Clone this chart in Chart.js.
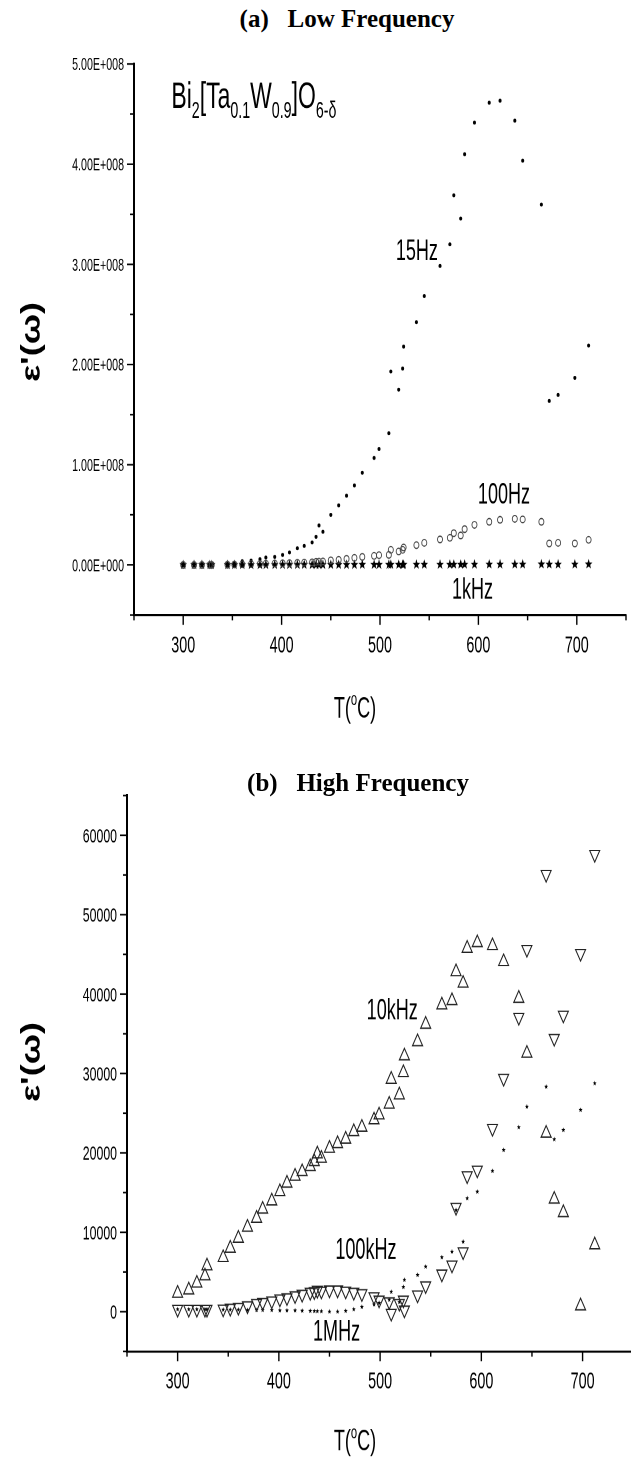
<!DOCTYPE html>
<html>
<head>
<meta charset="utf-8">
<script src="https://cdn.jsdelivr.net/npm/chart.js@4.4.1/dist/chart.umd.min.js"></script>
<style>
  html, body { margin: 0; padding: 0; background: #fff; overflow: hidden; }
  body { width: 631px; height: 1461px; position: relative; }
  .titulo { position: absolute; font: bold 25px 'Liberation Serif', 'Times New Roman', serif; white-space: pre; transform: translateX(-50%); line-height: 1; z-index: 2; }
  .panel { position: absolute; left: 0; transform: scaleY(1.33); transform-origin: 0 0; }
</style>
</head>
<body>
<div class="panel" style="top:40px;width:631px;height:519px"><canvas id="graficoA"></canvas></div>
<div class="panel" style="top:770px;width:640px;height:520px"><canvas id="graficoB"></canvas></div>
<div class="titulo" style="left:347px;top:6px">(a)   Low Frequency</div>
<div class="titulo" style="left:358px;top:770px">(b)   High Frequency</div>
<script>
// Temperaturas de medida (°C), comunes a las dos gráficas
const temperaturas = [300, 311, 319, 327, 329, 345, 352, 360, 369, 378, 384, 393, 401, 408, 416, 423, 431, 435, 438, 442,
  450, 458, 466, 474, 482, 494, 499, 509, 511, 519, 523, 524, 537, 545, 561, 571, 575, 582, 586, 596,
  611, 622, 637, 645, 664, 672, 681, 698, 712];

// (a) baja frecuencia, en unidades de 1E+008
const e15Hz = [0.004, 0.004, 0.005, 0.005, 0.006, 0.010, 0.015, 0.037, 0.044, 0.057, 0.074, 0.080, 0.100, 0.124, 0.167, 0.190, 0.224, 0.280, 0.394, 0.330,
  0.500, 0.594, 0.690, 0.794, 0.920, 1.067, 1.157, 1.314, 1.930, 1.750, 1.960, 2.180, 2.424, 2.684, 2.984, 3.200, 3.690, 3.457, 4.100, 4.414,
  4.614, 4.634, 4.434, 4.034, 3.597, 1.637, 1.697, 1.867, 2.190];
const e100Hz = [0.000, 0.000, 0.000, 0.000, 0.000, 0.002, 0.004, 0.006, 0.008, 0.010, 0.012, 0.014, 0.016, 0.018, 0.020, 0.022, 0.025, 0.030, 0.032, 0.034,
  0.045, 0.050, 0.060, 0.070, 0.080, 0.090, 0.097, 0.100, 0.150, 0.134, 0.150, 0.174, 0.197, 0.220, 0.254, 0.270, 0.317, 0.294, 0.357, 0.400,
  0.430, 0.450, 0.460, 0.454, 0.430, 0.214, 0.220, 0.214, 0.250];
const e1kHz = [0.001, 0.001, 0.001, 0.001, 0.001, 0.001, 0.001, 0.001, 0.001, 0.001, 0.001, 0.001, 0.002, 0.002, 0.002, 0.002, 0.002, 0.002, 0.002, 0.002,
  0.002, 0.002, 0.002, 0.002, 0.003, 0.003, 0.003, 0.003, 0.003, 0.003, 0.003, 0.003, 0.004, 0.004, 0.004, 0.004, 0.005, 0.005, 0.005, 0.005,
  0.006, 0.006, 0.006, 0.006, 0.007, 0.006, 0.006, 0.006, 0.007];
const escalaA = 1e8;

// (b) alta frecuencia
const e10kHz = [2317, 2732, 3575, 4495, 5754, 6800, 7982, 9241, 10626, 11759, 12892, 13937, 15108, 16166, 17050, 17626, 18256, 18885, 19855, 19313,
  20573, 21150, 21720, 22662, 23216, 24135, 24765, 26111, 29258, 27283, 30100, 32200, 33993, 36184, 38614, 39155, 42806, 41345, 45751, 46457,
  46079, 44065, 39457, 32532, 22461, 14151, 12464, 718, 8398];
const e100kHz = [300, 300, 300, 300, 300, 340, 430, 550, 750, 1050, 1170, 1350, 1600, 1760, 2010, 2190, 2440, 2520, 2690, 2600,
  2730, 2730, 2600, 2440, 2270, 1890, 1470, 1260, -200, 1050, 1470, 210, 2100, 3270, 4750, 5880, 13140, 7550, 17120, 17840,
  23090, 29385, 37065, 45626, 55069, 34421, 37355, 45122, 57587];
const e1MHz = [300, 300, 300, 300, 300, 250, 250, 250, 200, 200, 200, 200, 150, 150, 150, 120, 100, 80, 60, 50,
  0, 0, 100, 300, 600, 900, 1100, 1500, 2500, 1200, 3100, 4000, 4620, 5670, 6850, 7550, 12800, 8810, 14280, 15110,
  17710, 20360, 23220, 25810, 28330, 21700, 22880, 25400, 28760];

// Liberation Sans comprimida horizontalmente ~ Arial Narrow
const fuente = "'Liberation Sans', Arial, sans-serif";
const estrecho = 0.82;

function puntos(valores, escala) {
  return temperaturas.map((t, i) => ({ x: t, y: valores[i] * (escala || 1) }));
}

function formatoE(v) {
  if (v === 0) return '0.00E+000';
  const exp = Math.floor(Math.log10(Math.abs(v)));
  return (v / Math.pow(10, exp)).toFixed(2) + 'E+' + String(exp).padStart(3, '0');
}

function hacerEstrella(tam) {
  const c = document.createElement('canvas');
  c.width = c.height = Math.ceil(tam * 3);
  const g = c.getContext('2d');
  const r = c.width / 2;
  g.beginPath();
  for (let i = 0; i < 10; i++) {
    const rr = i % 2 ? r * 0.42 : r;
    const a = -Math.PI / 2 + i * Math.PI / 5;
    g.lineTo(r + rr * Math.cos(a), r + rr * Math.sin(a));
  }
  g.closePath();
  g.fillStyle = '#000';
  g.fill();
  const img = new Image();
  img.src = c.toDataURL();
  img.width = tam;
  img.height = tam;
  return img;
}

// texto con subindices / superindices; alinear: left | center | right
function escribir(ctx, partes, x, y, tam, negrita, alinear, giro, ancho) {
  const pref = negrita ? 'bold ' : '';
  let total = 0;
  partes.forEach(p => {
    ctx.font = pref + (p[1] ? tam * 0.62 : tam) + 'px ' + fuente;
    total += ctx.measureText(p[0]).width;
  });
  ctx.save();
  ctx.translate(x, y);
  if (giro) ctx.rotate(giro);
  ctx.scale(ancho || 1, 1);
  let px = alinear === 'left' ? 0 : (alinear === 'right' ? -total : -total / 2);
  const base = alinear === 'left' ? 0 : tam * 0.36;
  ctx.textBaseline = 'alphabetic';
  ctx.textAlign = 'left';
  partes.forEach(p => {
    ctx.font = pref + (p[1] ? tam * 0.62 : tam) + 'px ' + fuente;
    let dy = 0;
    if (p[1] === 'sub') dy = tam * 0.28;
    if (p[1] === 'sup') dy = -tam * 0.42;
    ctx.fillText(p[0], px, base + dy);
    px += ctx.measureText(p[0]).width;
  });
  ctx.restore();
}

// marcas de los ejes (mayores con etiqueta, menores sin ella) y textos
const marcasYTextos = {
  id: 'marcasYTextos',
  afterDraw(chart, args, o) {
    const ctx = chart.ctx, sx = chart.scales.x, sy = chart.scales.y;
    ctx.save();
    ctx.strokeStyle = '#000';
    ctx.fillStyle = '#000';
    ctx.lineWidth = 1.4;
    sx.ticks.forEach(t => {
      const px = sx.getPixelForValue(t.value);
      const l = t.label ? 7.5 : 4;
      ctx.beginPath(); ctx.moveTo(px, sx.top); ctx.lineTo(px, sx.top + l); ctx.stroke();
      if (t.label) escribir(ctx, [[t.label]], px, sx.top + 21.8, o.tamX, false, 'center', 0, estrecho);
    });
    ctx.lineWidth = 1.2;
    sy.ticks.forEach(t => {
      const py = sy.getPixelForValue(t.value);
      const l = t.label ? 7 : 4;
      ctx.beginPath(); ctx.moveTo(sy.right, py); ctx.lineTo(sy.right - l, py); ctx.stroke();
      if (t.label) escribir(ctx, [[t.label]], sy.right - 10, py, o.tamY, false, 'right', 0, estrecho);
    });
    (o.anotaciones || []).forEach(a => {
      escribir(ctx, a.partes, sx.getPixelForValue(a.T), sy.getPixelForValue(a.v), a.tam, false, a.alinear || 'center', 0, estrecho);
    });
    (o.titulos || []).forEach(a => escribir(ctx, a.partes, a.x, a.y, a.tam, a.negrita, 'center', a.giro || 0, a.negrita ? 1 : estrecho));
    ctx.restore();
  }
};

function ejeX(alto) {
  return {
    type: 'linear', min: 250, max: 750,
    afterFit: s => { s.height = alto; },
    ticks: { display: false, stepSize: 50, autoSkip: false, callback: v => (v % 100 === 0 ? String(v) : '') },
    grid: { display: false },
    border: { display: true, color: '#000', width: 1.6 }
  };
}

function opciones(escalas, plug, relleno) {
  return {
    responsive: true, maintainAspectRatio: false, animation: false, devicePixelRatio: 2,
    layout: { padding: relleno },
    plugins: { legend: { display: false }, tooltip: { enabled: false }, marcasYTextos: plug },
    scales: escalas
  };
}

const tituloT = [['T('], ['o', 'sup'], ['C)']];
const tituloE = [["ε'(ω)"]];

(async function () {
  const estrella1k = hacerEstrella(8);
  const estrella1M = hacerEstrella(4.4);
  await Promise.all([estrella1k.decode(), estrella1M.decode()]);

  new Chart(document.getElementById('graficoA'), {
    type: 'scatter',
    data: {
      datasets: [
        { label: '100Hz', data: puntos(e100Hz, escalaA), pointStyle: 'circle', pointRadius: 2.5, backgroundColor: 'rgba(0,0,0,0)', borderColor: '#444', borderWidth: 0.9 },
        { label: '1kHz', data: puntos(e1kHz, escalaA), pointStyle: estrella1k, pointRadius: 4 },
        { label: '15Hz', data: puntos(e15Hz, escalaA), pointStyle: 'circle', pointRadius: 1.5, backgroundColor: '#000', borderWidth: 0 }
      ]
    },
    options: opciones({
      x: ejeX(86.7),
      y: {
        type: 'linear', min: -0.5e8, max: 5e8,
        afterFit: s => { s.width = 134; },
        ticks: { display: false, stepSize: 0.5e8, autoSkip: false, callback: v => (Math.round(v / 0.5e8) % 2 === 0 ? formatoE(v) : '') },
        grid: { display: false },
        border: { display: true, color: '#000', width: 2 }
      }
    }, {
      tamX: 17.5, tamY: 13,
      anotaciones: [
        { partes: [['15Hz']], T: 537.5, v: 3.15e8, tam: 22 },
        { partes: [['100Hz']], T: 626, v: 0.716e8, tam: 22 },
        { partes: [['1kHz']], T: 594, v: -0.233e8, tam: 22 },
        { partes: [['Bi'], ['2', 'sub'], ['[Ta'], ['0.1', 'sub'], ['W'], ['0.9', 'sub'], [']O'], ['6-δ', 'sub']], T: 288, v: 4.565e8, tam: 28, alinear: 'left' }
      ],
      titulos: [
        { partes: tituloT, x: 355, y: 501.5, tam: 22 },
        { partes: tituloE, x: 30, y: 227, tam: 27, negrita: true, giro: -Math.PI / 2 }
      ]
    }, { top: 18.05, right: 4, left: 0, bottom: 0 }),
    plugins: [marcasYTextos]
  });

  new Chart(document.getElementById('graficoB'), {
    type: 'scatter',
    data: {
      datasets: [
        { label: '10kHz', data: puntos(e10kHz), pointStyle: 'triangle', pointRadius: 5.8, backgroundColor: 'rgba(0,0,0,0)', borderColor: '#222', borderWidth: 1 },
        { label: '100kHz', data: puntos(e100kHz), pointStyle: 'triangle', rotation: 180, pointRadius: 5.8, backgroundColor: 'rgba(0,0,0,0)', borderColor: '#222', borderWidth: 1 },
        { label: '1MHz', data: puntos(e1MHz), pointStyle: estrella1M, pointRadius: 2.2 }
      ]
    },
    options: opciones({
      x: ejeX(82.9),
      y: {
        type: 'linear', min: -5000, max: 65000,
        afterFit: s => { s.width = 127; },
        ticks: { display: false, stepSize: 5000, autoSkip: false, callback: v => (v % 10000 === 0 ? String(v) : '') },
        grid: { display: false },
        border: { display: true, color: '#000', width: 2 }
      }
    }, {
      tamX: 17.5, tamY: 15,
      anotaciones: [
        { partes: [['10kHz']], T: 512, v: 38110, tam: 22 },
        { partes: [['100kHz']], T: 486, v: 7980, tam: 22 },
        { partes: [['1MHz']], T: 457, v: -2300, tam: 22 }
      ],
      titulos: [
        { partes: tituloT, x: 355, y: 503.8, tam: 22 },
        { partes: tituloE, x: 30, y: 219.5, tam: 27, negrita: true, giro: -Math.PI / 2 }
      ]
    }, { top: 19.17, right: 5.2, left: 0, bottom: 0 }),
    plugins: [marcasYTextos]
  });
})();
</script>
</body>
</html>
